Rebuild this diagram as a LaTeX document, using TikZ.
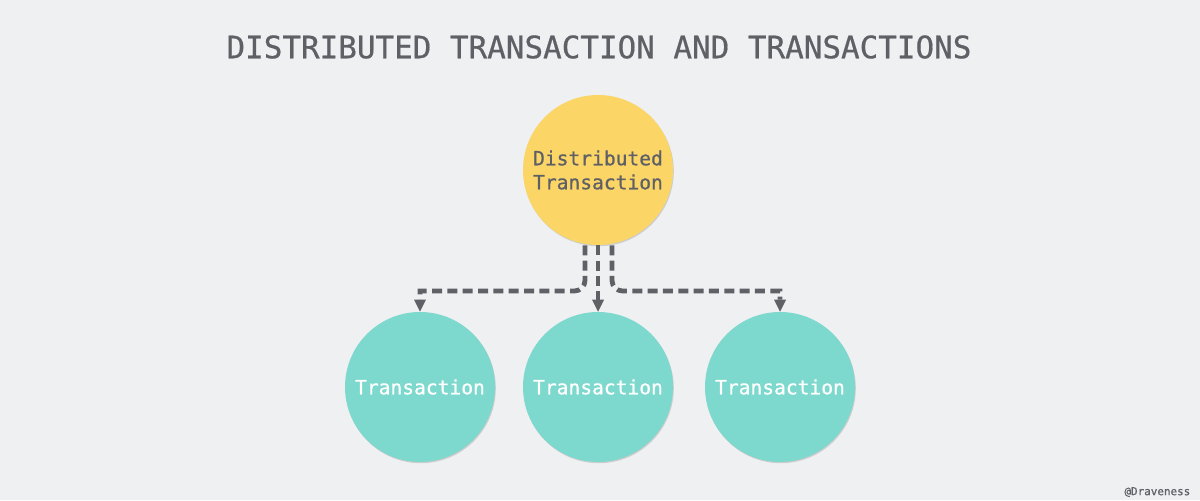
\documentclass[tikz,border=0pt]{standalone}
\usepackage{fontspec}
\setmonofont{DejaVu Sans Mono}
\newfontfamily\medmono[FakeBold=0.8]{DejaVu Sans Mono}
\newfontfamily\titlemono[FakeBold=0.6]{DejaVu Sans Mono}
\usetikzlibrary{arrows.meta,shadows}
\definecolor{bg}{HTML}{EFF0F2}
\definecolor{ink}{HTML}{5F6066}
\definecolor{line}{HTML}{606166}
\definecolor{yel}{HTML}{FBD566}
\definecolor{teal}{HTML}{7DD8CD}
\tikzset{
  px/.style={x=0.75pt,y=-0.75pt},
  ball/.style={circle,minimum size=112.5pt,inner sep=0pt,
    drop shadow={shadow xshift=0.6pt,shadow yshift=-0.9pt,opacity=0.25,fill=black!60}},
  topball/.style={ball,fill=yel,text=ink,font=\medmono\fontsize{14.7pt}{18pt}\selectfont,align=center},
  subball/.style={ball,fill=teal,text=white,font=\medmono\fontsize{14.7pt}{18pt}\selectfont},
  conn/.style={draw=line,line width=3.6pt,dash pattern=on 7.5pt off 4pt,
    -{Triangle[width=9pt,length=9pt,line width=0pt]}},
}
\begin{document}
\begin{tikzpicture}[px]
\fill[bg] (0,0) rectangle (1200,500);
\useasboundingbox (0,0) rectangle (1200,500);
\node[font=\titlemono\fontsize{23.2pt}{28pt}\selectfont,text=ink] (title) at (599,47) {DISTRIBUTED TRANSACTION AND TRANSACTIONS};
\coordinate (tl) at (585,291);
\coordinate (tr) at (612,291);
\node[topball] (top) at (598,170) {Distributed\\Transaction};
\node[subball] (t1) at (420,387) {Transaction};
\node[subball] (t2) at (598,387) {Transaction};
\node[subball] (t3) at (780,387) {Transaction};
\draw[conn,rounded corners=8pt] ([xshift=-9.75pt]top.south) -- (tl) [sharp corners] -| (t1.north);
\draw[conn,rounded corners=8pt] ([xshift=10.5pt]top.south) -- (tr) [sharp corners] -| (t3.north);
\draw[conn] (top.south) -- (t2.north);
\node[font=\medmono\fontsize{8.2pt}{10pt}\selectfont,text=ink,anchor=east] (sig) at (1195,492) {@Draveness};
\end{tikzpicture}
\end{document}
